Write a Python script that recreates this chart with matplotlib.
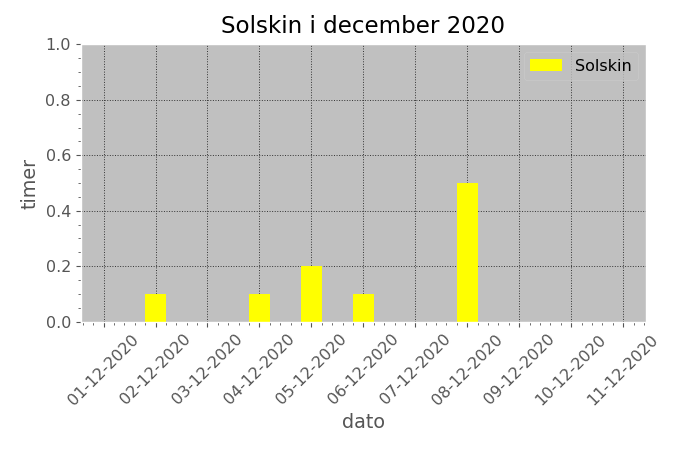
import datetime as dt
import matplotlib
matplotlib.use('Agg')
from matplotlib import pyplot as plt
from matplotlib.dates import DateFormatter, DayLocator, date2num
from matplotlib.ticker import AutoMinorLocator, MultipleLocator

plt.style.use('ggplot')
plt.rcParams['font.size'] = 11.5

# sunshine hours per day, December 2020
days = [dt.date(2020, 12, d) for d in range(1, 12)]
hours = [0.0, 0.1, 0.0, 0.1, 0.2, 0.1, 0.0, 0.5, 0.0, 0.0, 0.0]

fig, ax = plt.subplots(figsize=(6.8, 4.53), dpi=100)
fig.subplots_adjust(left=0.1187, right=0.95, top=0.9022, bottom=0.2898)

ax.set_facecolor('silver')
ax.bar(days, hours, width=0.4, color='yellow', linewidth=0, label='Solskin')

# date axis formatting
ax.xaxis.set_major_locator(DayLocator())
ax.xaxis.set_major_formatter(DateFormatter('%d-%m-%Y'))
ax.xaxis.set_minor_locator(AutoMinorLocator(5))
ax.yaxis.set_major_locator(MultipleLocator(0.2))
ax.yaxis.set_minor_locator(AutoMinorLocator(4))
ax.set_xlim(date2num(days[0]) - 0.44, date2num(days[-1]) + 0.44)
ax.set_ylim(0, 1.0)
plt.setp(ax.get_xticklabels(), rotation=45)

ax.grid(which='major', color='0.2', linestyle=':', linewidth=0.7)

ax.set_title('Solskin i december 2020', color='black', pad=8)
ax.set_xlabel('dato')
ax.set_ylabel('timer')
leg = ax.legend(loc='upper right', facecolor='silver', edgecolor='0.8')

fig.savefig('out.png', dpi=100)
